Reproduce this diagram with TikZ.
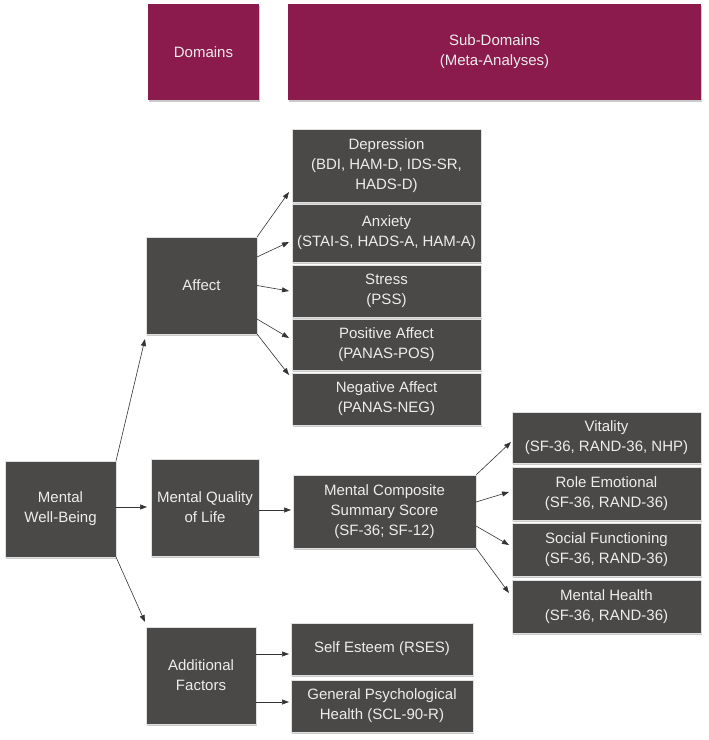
\documentclass[tikz,border=0pt]{standalone}
\usepackage{fontspec}
\setmainfont{Liberation Sans}
\usetikzlibrary{arrows.meta,shadows}
\definecolor{boxgray}{HTML}{4B4948}
\definecolor{maroon}{HTML}{8C1B4D}
\definecolor{txt}{HTML}{EDEDED}
\definecolor{arr}{HTML}{333333}
\tikzset{
  base/.style={inner sep=0pt, outer sep=0pt, align=center, font=\fontsize{15}{20}\selectfont,
    drop shadow={shadow xshift=0.6pt, shadow yshift=-1.6pt, opacity=0.35, fill=black!60}},
  gbox/.style={base, fill=boxgray, draw=black!12, line width=0.8pt, text=txt},
  hbox/.style={base, fill=maroon, draw=none, text=txt},
  conn/.style={draw=arr, line width=0.6pt, -{Triangle[length=7pt,width=5pt]}}
}
\begin{document}
\begin{tikzpicture}[x=1pt,y=1pt]
\useasboundingbox (0,0) rectangle (709,740);
% headers
\node[hbox, minimum width=111pt, minimum height=96pt] (dom) at (203.5,688) {Domains};
\node[hbox, minimum width=413pt, minimum height=96pt] (sub) at (494.5,688) {Sub-Domains\\(Meta-Analyses)};
% domain level
\node[gbox, minimum width=111pt, minimum height=96pt] (mwb) at (60.5,231) {Mental\\Well-Being};
\node[gbox, minimum width=111pt, minimum height=97pt] (aff) at (201.5,454.5) {Affect};
\node[gbox, minimum width=108pt, minimum height=97pt] (mql) at (205,232.5) {Mental Quality\\of Life};
\node[gbox, minimum width=110pt, minimum height=97pt] (add) at (201,64.5) {Additional\\Factors};
% affect children
\node[gbox, minimum width=189pt, minimum height=73pt] (dep) at (386.5,574.5) {Depression\\(BDI, HAM-D, IDS-SR,\\HADS-D)};
\node[gbox, minimum width=189pt, minimum height=58pt] (anx) at (386.5,507) {Anxiety\\(STAI-S, HADS-A, HAM-A)};
\node[gbox, minimum width=189pt, minimum height=52pt] (str) at (386.5,449) {Stress\\(PSS)};
\node[gbox, minimum width=189pt, minimum height=51pt] (pos) at (386.5,395.5) {Positive Affect\\(PANAS-POS)};
\node[gbox, minimum width=189pt, minimum height=52pt] (neg) at (386.5,341) {Negative Affect\\(PANAS-NEG)};
% MQoL children
\node[gbox, minimum width=183pt, minimum height=73pt] (mcs) at (384.5,228.5) {Mental Composite\\Summary Score\\(SF-36; SF-12)};
\node[gbox, minimum width=189pt, minimum height=51pt] (vit) at (606.5,302.5) {Vitality\\(SF-36, RAND-36, NHP)};
\node[gbox, minimum width=189pt, minimum height=53pt] (rol) at (606.5,246.5) {Role Emotional\\(SF-36, RAND-36)};
\node[gbox, minimum width=189pt, minimum height=53pt] (soc) at (606.5,190.5) {Social Functioning\\(SF-36, RAND-36)};
\node[gbox, minimum width=189pt, minimum height=53pt] (mh) at (606.5,133.5) {Mental Health\\(SF-36, RAND-36)};
% additional children
\node[gbox, minimum width=182pt, minimum height=52pt] (se) at (382,91) {Self Esteem (RSES)};
\node[gbox, minimum width=182pt, minimum height=52pt] (gph) at (382,34) {General Psychological\\Health (SCL-90-R)};
% connectors
\draw[conn] (mwb.north east) -- ([shift={(-1,-5)}]aff.south west);
\draw[conn] ([yshift=2]mwb.east) -- ([shift={(-4,0.5)}]mql.west);
\draw[conn] (mwb.south east) -- ([shift={(-1,5)}]add.north west);
\draw[conn] (aff.north east) -- ([shift={(-3,-26.5)}]dep.west);
\draw[conn] ([yshift=28.5]aff.east) -- ([shift={(-3,-9)}]anx.west);
\draw[conn] ([yshift=0]aff.east) -- ([shift={(-3,0)}]str.west);
\draw[conn] ([yshift=-33.5]aff.east) -- ([shift={(-3,6.5)}]pos.west);
\draw[conn] (aff.south east) -- ([shift={(-3,24)}]neg.west);
\draw[conn] ([yshift=-2.5]mql.east) -- ([shift={(-2,1.5)}]mcs.west);
\draw[conn] (mcs.north east) -- ([shift={(-1,-4.5)}]vit.west);
\draw[conn] ([yshift=9.5]mcs.east) -- ([shift={(-3,1.5)}]rol.west);
\draw[conn] ([yshift=-14.5]mcs.east) -- ([shift={(-3,4.5)}]soc.west);
\draw[conn] (mcs.south east) -- ([shift={(-3,13.5)}]mh.west);
\draw[conn] ([yshift=21.5]add.east) -- ([shift={(-2,-5)}]se.west);
\draw[conn] ([yshift=-26.5]add.east) -- ([shift={(-2,4)}]gph.west);
\end{tikzpicture}
\end{document}
